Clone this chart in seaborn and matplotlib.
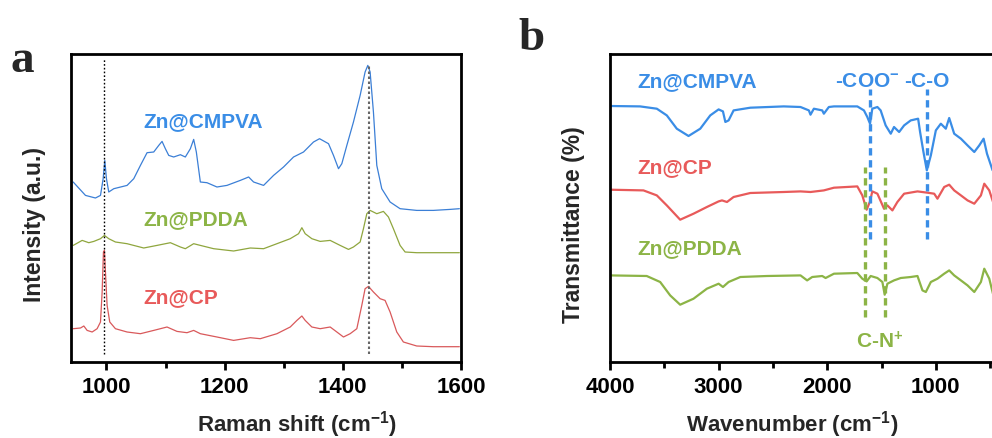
import numpy as np
import pandas as pd
import matplotlib
matplotlib.use("Agg")
import matplotlib.pyplot as plt
import seaborn as sns

# ---------------- Panel a: Raman spectra (offset, arbitrary units) ----------------
raman_cmpva_x = [943.7, 964.5, 981.4, 989.9, 994.4, 997.2, 1000.0, 1003.9, 1012.4, 1034.9, 1046.2,
                 1057.5, 1068.7, 1080.0, 1088.5, 1094.1, 1099.7, 1105.4, 1113.8, 1125.1, 1133.5,
                 1142.0, 1147.6, 1152.1, 1158.9, 1170.1, 1187.0, 1203.9, 1226.5, 1240.6, 1249.0,
                 1265.9, 1282.8, 1299.7, 1316.6, 1333.5, 1350.4, 1360.6, 1375.8, 1384.2, 1392.7,
                 1398.3, 1406.8, 1418.0, 1429.3, 1437.7, 1442.3, 1446.2, 1451.8, 1457.5, 1465.9,
                 1480.0, 1496.9, 1525.1, 1553.2, 1581.4, 1597.2]
raman_cmpva_y = [179.7, 166.3, 163.7, 166.3, 183.0, 201.3, 183.0, 169.7, 173.0, 176.3, 183.0,
                 196.3, 209.0, 209.7, 216.3, 220.3, 213.0, 206.3, 204.7, 207.0, 204.7,
                 213.0, 222.3, 209.7, 179.7, 179.0, 174.7, 176.3, 181.3, 184.7, 179.7,
                 176.3, 186.3, 194.7, 204.7, 209.7, 219.7, 223.0, 218.0, 206.3, 193.0,
                 198.0, 216.3, 239.7, 266.3, 289.7, 296.3, 289.7, 249.7, 196.3, 173.0,
                 159.7, 153.0, 151.3, 151.3, 152.3, 153.0]

raman_pdda_x = [943.7, 958.9, 970.1, 978.6, 989.9, 996.6, 1003.9, 1015.2, 1034.9, 1063.1, 1085.6,
                1108.2, 1125.1, 1133.5, 1147.6, 1158.9, 1181.4, 1215.2, 1243.4, 1265.9, 1288.5,
                1311.0, 1325.1, 1330.7, 1336.3, 1347.6, 1361.7, 1378.6, 1395.5, 1409.6, 1418.0,
                1429.3, 1434.9, 1440.6, 1446.2, 1457.5, 1468.7, 1477.2, 1485.6, 1496.9, 1505.4,
                1525.1, 1553.2, 1597.2]
raman_pdda_y = [116.3, 121.3, 119.0, 120.3, 123.0, 126.3, 123.0, 119.7, 118.0, 113.7, 116.3,
                119.0, 114.7, 113.0, 118.0, 116.3, 113.0, 110.7, 113.7, 113.0, 118.0,
                123.0, 128.0, 134.0, 128.0, 123.0, 120.3, 121.3, 116.3, 112.3, 114.7,
                119.7, 133.0, 148.0, 151.3, 148.0, 150.3, 144.7, 133.0, 116.3, 109.7,
                109.0, 109.0, 109.0]

raman_cp_x = [943.7, 956.1, 961.7, 967.3, 975.8, 984.2, 989.9, 992.7, 994.9, 996.6, 998.3,
              1001.1, 1005.6, 1015.2, 1034.9, 1057.5, 1080.0, 1102.5, 1119.4, 1136.3, 1147.6,
              1158.9, 1187.0, 1215.2, 1243.4, 1260.3, 1288.5, 1311.0, 1322.3, 1330.7, 1336.3,
              1347.6, 1361.7, 1378.6, 1389.9, 1401.1, 1412.4, 1423.7, 1432.1, 1437.7, 1443.4,
              1451.8, 1463.1, 1471.5, 1480.0, 1491.3, 1502.5, 1525.1, 1553.2, 1597.2]
raman_cp_y = [33.0, 33.7, 35.7, 31.3, 29.7, 33.0, 39.7, 69.7, 109.7, 111.3, 89.7,
              56.3, 39.7, 33.0, 29.7, 28.0, 31.3, 34.7, 30.3, 29.0, 31.3,
              28.0, 24.7, 21.3, 24.0, 23.0, 28.0, 34.7, 41.3, 45.7, 41.3,
              34.7, 33.0, 34.7, 29.7, 24.7, 28.0, 33.0, 56.3, 73.0, 75.3,
              69.7, 63.0, 61.3, 49.7, 29.7, 19.7, 15.7, 15.0, 15.0]

raman_marks_x = [995, 1444]
raman_marks_top = [303, 298]
raman_marks_bottom = [8, 8]

# ---------------- Panel b: FTIR spectra (offset, arbitrary units) ----------------
ir_cmpva_x = [4000, 3723, 3569, 3477, 3385, 3277, 3169, 3077, 3000, 2960, 2938, 2908, 2862, 2708,
              2400, 2246, 2169, 2154, 2123, 2046, 2031, 1985, 1938, 1723, 1662, 1631, 1606,
              1585, 1538, 1508, 1462, 1415, 1385, 1338, 1292, 1231, 1163, 1145, 1114, 1083,
              1046, 1000, 954, 908, 877, 831, 769, 708, 646, 600, 560, 529, 477]
ir_cmpva_y = [255.7, 255.3, 253.0, 246.3, 233.0, 225.7, 233.0, 246.3, 252.3, 250.3, 239.7, 241.3,
              251.3, 254.0, 255.3, 254.7, 251.3, 247.0, 253.0, 251.3, 248.0, 254.7, 255.3,
              255.3, 251.3, 244.7, 238.0, 253.0, 254.7, 251.3, 236.3, 228.0, 234.7, 229.7,
              236.3, 241.3, 243.0, 229.7, 209.7, 191.3, 206.3, 231.3, 238.0, 233.0, 243.7,
              228.0, 223.0, 216.3, 209.7, 216.3, 223.0, 208.0, 191.3]

ir_cp_x = [4000, 3692, 3569, 3477, 3354, 3231, 3108, 3000, 2969, 2923, 2862, 2708, 2400, 2246,
           2154, 2031, 1938, 1723, 1677, 1637, 1606, 1585, 1538, 1477, 1446, 1400, 1354, 1292,
           1169, 1077, 1015, 985, 923, 877, 831, 769, 708, 646, 585, 554, 508, 474]
ir_cp_y = [172.0, 171.3, 166.3, 156.3, 142.0, 148.0, 154.7, 160.3, 161.3, 159.7, 164.7, 168.7,
           169.7, 170.3, 169.7, 171.3, 174.0, 175.3, 166.3, 152.0, 160.3, 170.3, 168.0, 153.0,
           156.3, 151.3, 159.7, 168.0, 170.3, 169.0, 168.0, 163.0, 174.7, 177.0, 171.3, 166.3,
           161.3, 158.0, 166.3, 178.0, 171.3, 160.0]

ir_pdda_x = [4000, 3662, 3538, 3446, 3354, 3231, 3108, 3000, 2960, 2908, 2800, 2554, 2246, 2185,
             2138, 2046, 2015, 1938, 1723, 1677, 1637, 1600, 1538, 1492, 1471, 1446, 1385, 1323,
             1231, 1169, 1123, 1092, 1046, 985, 923, 877, 831, 769, 708, 646, 585, 554, 508, 474]
ir_pdda_y = [86.3, 85.7, 79.7, 66.3, 57.0, 63.0, 73.0, 78.0, 74.7, 79.7, 84.7, 85.7, 86.3, 81.3,
             84.7, 85.7, 83.7, 88.0, 88.7, 83.0, 80.3, 85.7, 83.7, 79.7, 67.0, 78.0, 81.3, 83.7,
             84.7, 85.7, 71.3, 69.7, 79.7, 83.0, 88.0, 91.3, 86.3, 81.3, 76.3, 69.7, 79.7, 93.0,
             83.0, 68.0]

ir_blue_marks_x = [1606, 1083]
ir_blue_marks_range = [123, 273]
ir_green_marks_x = [1648, 1471]
ir_green_marks_range = [44.7, 194.7]

blue = "#3a8de6"
red = "#e85a5a"
green = "#8cb446"

sns.set_theme(style="white")
plt.rcParams["font.family"] = ["Liberation Sans", "DejaVu Sans"]
plt.rcParams["mathtext.fontset"] = "custom"
plt.rcParams["mathtext.rm"] = "Liberation Sans:bold"
plt.rcParams["mathtext.bf"] = "Liberation Sans:bold"
plt.rcParams["mathtext.it"] = "Liberation Sans:bold"
plt.rcParams["mathtext.default"] = "rm"

fig = plt.figure(figsize=(9.92, 4.39), dpi=100)
W, H = 992.0, 439.0
ax_a = fig.add_axes([71 / W, (H - 362.7) / H, 390 / W, 307.7 / H])
ax_b = fig.add_axes([610 / W, (H - 362.7) / H, 391 / W, 307.7 / H])


def draw(ax, x, y, color, lw):
    df = pd.DataFrame({"x": x, "y": y})
    sns.lineplot(data=df, x="x", y="y", ax=ax, color=color, linewidth=lw,
                 estimator=None, sort=False, legend=False)


# panel a
draw(ax_a, raman_cmpva_x, raman_cmpva_y, "#3b7fd6", 0.9)
draw(ax_a, raman_pdda_x, raman_pdda_y, "#8fa63e", 0.9)
draw(ax_a, raman_cp_x, raman_cp_y, "#d9595b", 0.9)
ax_a.vlines(raman_marks_x[0], raman_marks_bottom[0], raman_marks_top[0], colors="black",
            linestyles=(0, (1.2, 1.5)), linewidth=1.0)
ax_a.vlines(raman_marks_x[1], raman_marks_bottom[1], raman_marks_top[1], colors="#666666",
            linestyles=(0, (1.2, 1.2)), linewidth=1.5)
ax_a.set_xlim(940, 1600)
ax_a.set_ylim(0, 307.7)
ax_a.set_xticks([1000, 1200, 1400, 1600])
ax_a.set_xticks([1100, 1300, 1500], minor=True)
ax_a.text(1063, 241.3, "Zn@CMPVA", color=blue, fontsize=15, fontweight="bold", va="center")
ax_a.text(1063, 143.0, "Zn@PDDA", color=green, fontsize=15, fontweight="bold", va="center")
ax_a.text(1063, 64.7, "Zn@CP", color=red, fontsize=15, fontweight="bold", va="center")
ax_a.set_xlabel("Raman shift (cm$^{-1}$)", fontsize=16, fontweight="bold")
ax_a.set_ylabel("Intensity (a.u.)", fontsize=16.5, fontweight="bold")
ax_a.xaxis.set_label_coords(0.579, -0.15)
ax_a.yaxis.set_label_coords(-0.064, 0.45)

# panel b
draw(ax_b, ir_cmpva_x, ir_cmpva_y, blue, 1.6)
draw(ax_b, ir_cp_x, ir_cp_y, red, 1.6)
draw(ax_b, ir_pdda_x, ir_pdda_y, green, 1.6)
for xv in ir_blue_marks_x:
    ax_b.vlines(xv, ir_blue_marks_range[0], ir_blue_marks_range[1], colors=blue,
                linestyles=(0, (2.2, 1.4)), linewidth=2.4)
for xv in ir_green_marks_x:
    ax_b.vlines(xv, ir_green_marks_range[0], ir_green_marks_range[1], colors=green,
                linestyles=(0, (2.2, 1.4)), linewidth=2.4)
ax_b.set_xlim(4000, 400)
ax_b.set_ylim(0, 307.7)
ax_b.set_xticks([4000, 3000, 2000, 1000])
ax_b.set_xticks([3500, 2500, 1500, 500], minor=True)
ax_b.text(3748, 281, "Zn@CMPVA", color=blue, fontsize=15, fontweight="bold", va="center")
ax_b.text(3748, 195.3, "Zn@CP", color=red, fontsize=15, fontweight="bold", va="center")
ax_b.text(3748, 113.7, "Zn@PDDA", color=green, fontsize=15, fontweight="bold", va="center")
ax_b.text(1929, 281, "-COO$^{-}$", color=blue, fontsize=15, fontweight="bold", va="center")
ax_b.text(1292, 281, "-C-O", color=blue, fontsize=15, fontweight="bold", va="center")
ax_b.text(1738, 21.3, "C-N$^{+}$", color=green, fontsize=15, fontweight="bold", va="center")
ax_b.set_xlabel("Wavenumber (cm$^{-1}$)", fontsize=16, fontweight="bold")
ax_b.set_ylabel("Transmittance (%)", fontsize=16.5, fontweight="bold")
ax_b.xaxis.set_label_coords(0.467, -0.15)
ax_b.yaxis.set_label_coords(-0.064, 0.45)

for ax in (ax_a, ax_b):
    ax.set_yticks([])
    for s in ax.spines.values():
        s.set_visible(True)
        s.set_color("black")
        s.set_linewidth(2.0)
    ax.tick_params(axis="x", which="major", direction="out", length=6, width=2,
                   labelsize=16, pad=4, bottom=True, colors="black")
    ax.tick_params(axis="x", which="minor", direction="out", length=4, width=2,
                   bottom=True, colors="black")
    for lab in ax.get_xticklabels():
        lab.set_fontweight("bold")

fig.text(10 / W, (H - 72) / H, "a", fontsize=34, fontweight="bold",
         family=["Liberation Serif", "DejaVu Serif"], ha="left", va="baseline")
fig.text(518 / W, (H - 50) / H, "b", fontsize=34, fontweight="bold",
         family=["Liberation Serif", "DejaVu Serif"], ha="left", va="baseline")

fig.savefig("out.png", dpi=100)
